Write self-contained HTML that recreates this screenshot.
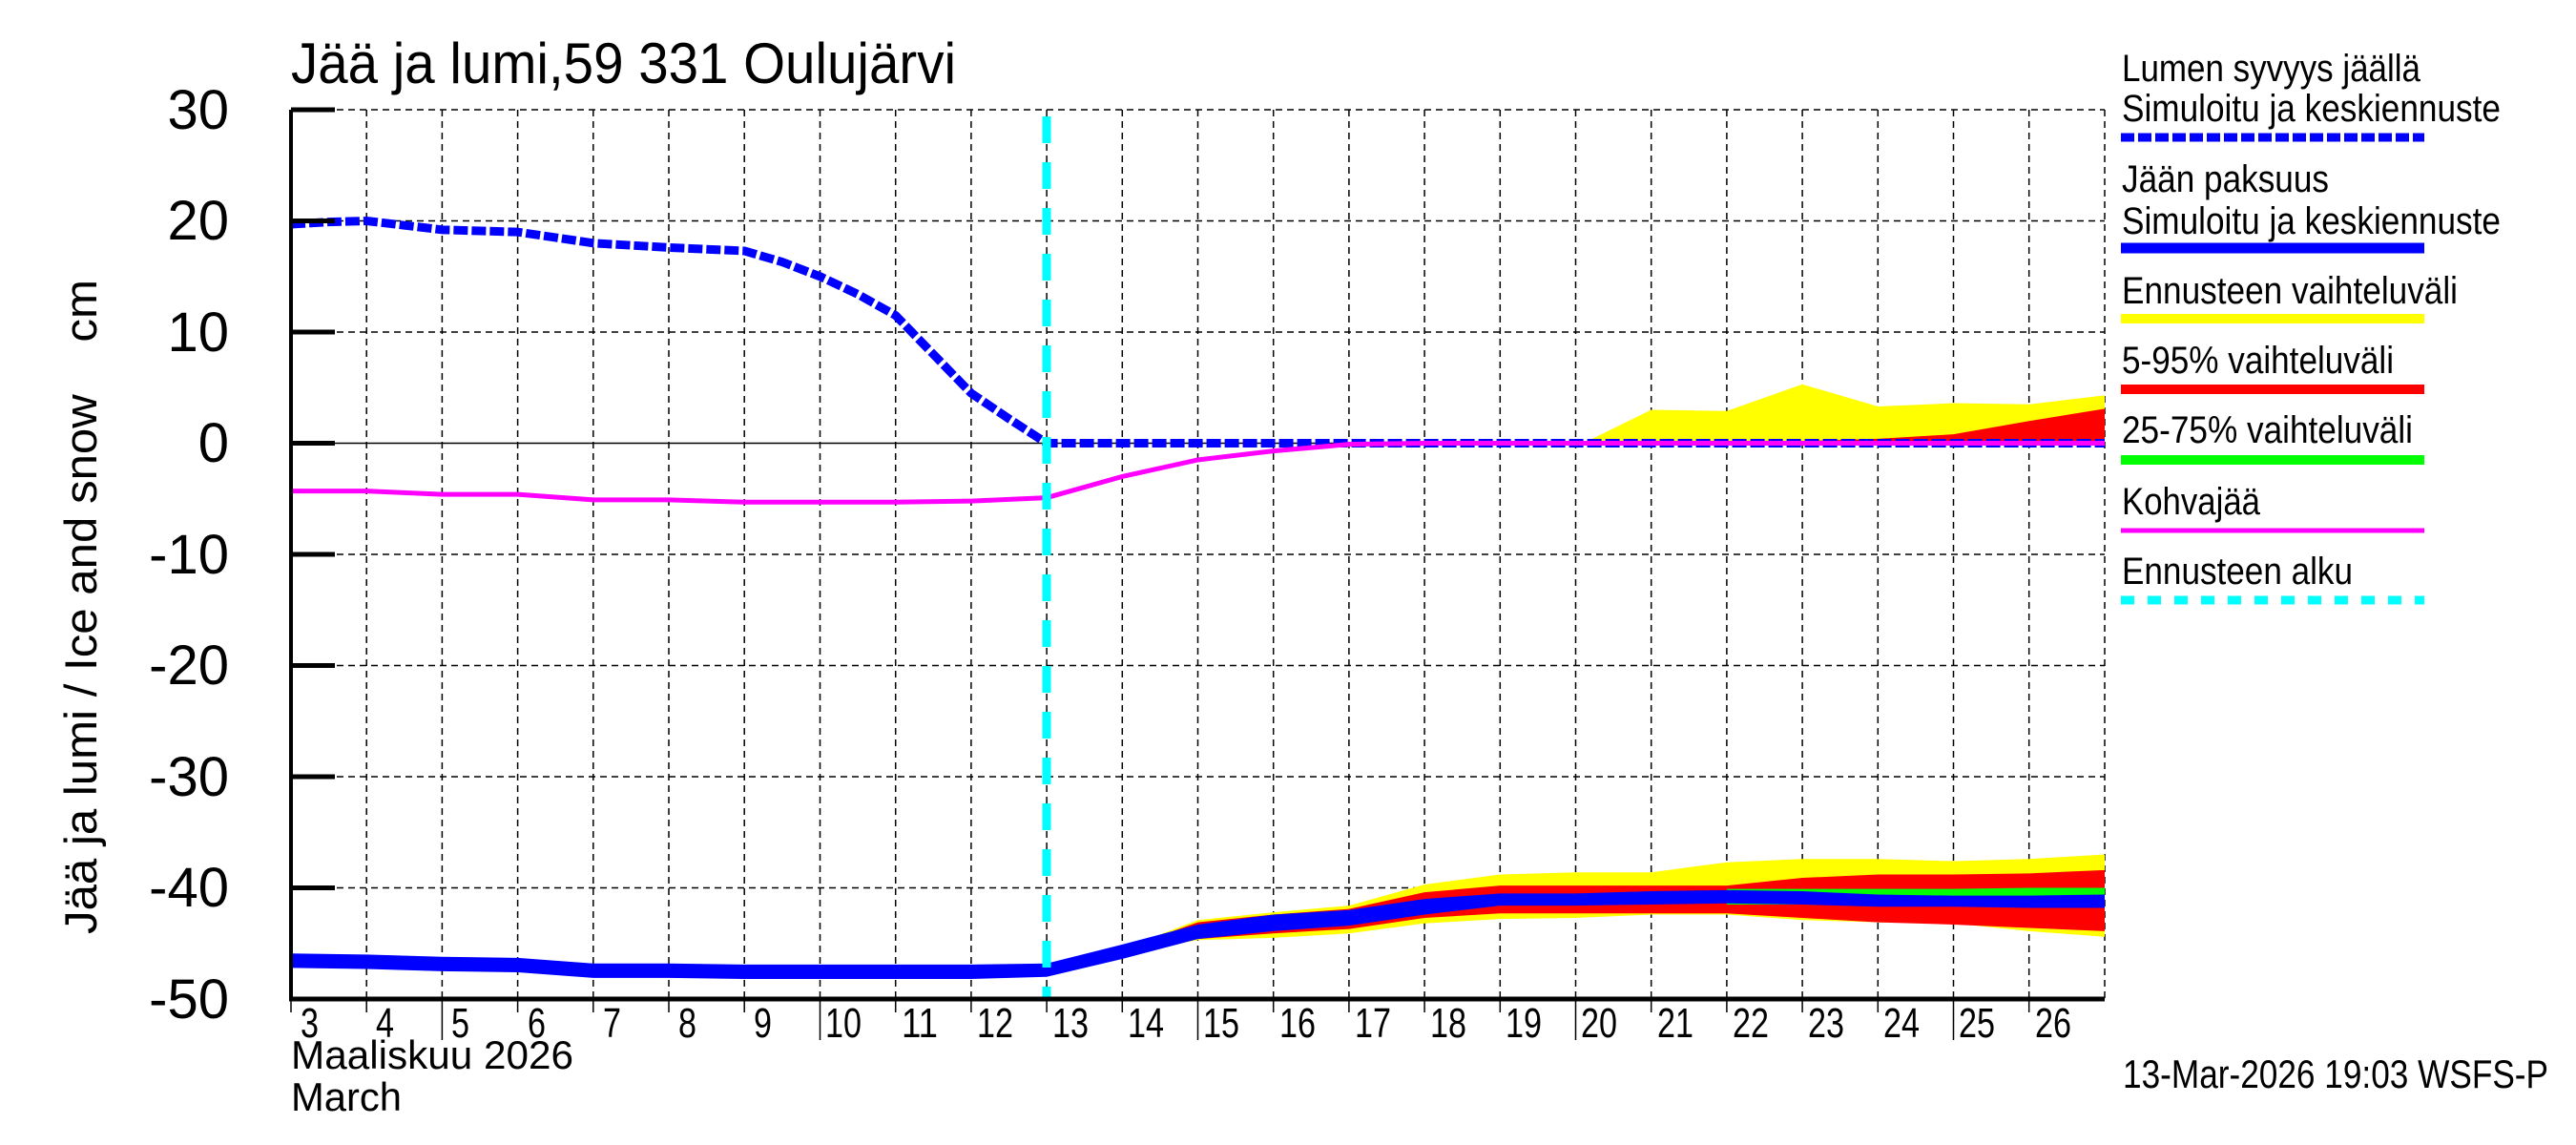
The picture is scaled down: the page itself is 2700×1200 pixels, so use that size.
<!DOCTYPE html>
<html><head><meta charset="utf-8"><style>
html,body{margin:0;padding:0;background:#fff}
svg{display:block}
text{font-family:"Liberation Sans",sans-serif;fill:#000}
</style></head><body>
<svg width="2700" height="1200" viewBox="0 0 2700 1200" xmlns="http://www.w3.org/2000/svg">
<rect width="2700" height="1200" fill="#fff"/>
<g stroke="#000" stroke-width="1.5" stroke-dasharray="7,5" fill="none">
<path d="M384.2 115V1047M463.4 115V1047M542.6 115V1047M621.8 115V1047M701 115V1047M780.2 115V1047M859.5 115V1047M938.7 115V1047M1017.9 115V1047M1097.1 115V1047M1176.3 115V1047M1255.5 115V1047M1334.7 115V1047M1413.9 115V1047M1493.1 115V1047M1572.3 115V1047M1651.5 115V1047M1730.7 115V1047M1809.9 115V1047M1889.1 115V1047M1968.3 115V1047M2047.5 115V1047M2126.7 115V1047M2206 115V1047"/>
<path d="M305 115H2206M305 231.5H2206M305 348H2206M305 581H2206M305 697.5H2206M305 814H2206M305 930.5H2206"/>
</g>
<path d="M305 464.5H2206" stroke="#000" stroke-width="1.5"/>
<g transform="translate(305,464.5) scale(79.208,-11.65)">
<polygon fill="#ffff00" points="10,-47.4 11,-45.5 12,-42.9 13,-42.2 14,-41.6 15,-39.7 16,-38.8 17,-38.6 18,-38.6 19,-37.7 20,-37.4 21,-37.4 22,-37.6 23,-37.4 24,-37 24,-44.4 23,-43.9 22,-43.2 21,-43.1 20,-42.9 19,-42.4 18,-42.4 17,-42.7 16,-42.8 15,-43.2 14,-44.1 13,-44.5 12,-44.7 11,-45.9 10,-47.6"/>
<polygon fill="#ff0000" points="10,-47.4 11,-45.5 12,-43.1 13,-42.4 14,-41.9 15,-40.4 16,-39.8 17,-39.8 18,-39.8 19,-39.8 20,-39.1 21,-38.8 22,-38.8 23,-38.7 24,-38.4 24,-43.9 23,-43.6 22,-43.3 21,-43.1 20,-42.7 19,-42.3 18,-42.3 17,-42.3 16,-42.3 15,-42.7 14,-43.7 13,-44.1 12,-44.6 11,-45.9 10,-47.6"/>
<polygon fill="#00ff00" points="19,-40.1 20,-40.1 21,-40.1 22,-40.1 23,-40.0 24,-40.0 24,-41.8 23,-41.6 22,-41.6 21,-41.6 20,-41.5 19,-41.5"/>
<polygon fill="#0000ff" points="0,-45.9 1,-46 2,-46.2 3,-46.3 4,-46.8 5,-46.8 6,-46.9 7,-46.9 8,-46.9 9,-46.9 10,-46.8 11,-45.1 12,-43.3 13,-42.4 14,-42 15,-41 16,-40.5 17,-40.5 18,-40.3 19,-40.2 20,-40.3 21,-40.6 22,-40.7 23,-40.7 24,-40.6 24,-41.8 23,-41.8 22,-41.7 21,-41.7 20,-41.5 19,-41.4 18,-41.5 17,-41.6 16,-41.6 15,-42.4 14,-43.4 13,-43.9 12,-44.6 11,-46.4 10,-48 9,-48.2 8,-48.2 7,-48.2 6,-48.2 5,-48.1 4,-48.1 3,-47.6 2,-47.5 1,-47.3 0,-47.2"/>
<polygon fill="#ffff00" points="17.1,0 18,3 19,2.9 20,5.3 21,3.3 22,3.6 23,3.5 24,4.3 24,0"/>
<polygon fill="#ff0000" points="19.8,0 20,0.2 21,0.4 22,0.8 23,2 24,3.1 24,0"/>
<polyline fill="none" stroke="#0000ff" stroke-width="9" vector-effect="non-scaling-stroke" stroke-dasharray="15,4" stroke-linejoin="round" points="0,19.7 0.5,19.9 1,20 1.5,19.6 2,19.2 3,19 3.5,18.5 4,18 5,17.6 6,17.3 6.5,16.3 7,15 7.5,13.4 8,11.5 8.5,8 9,4.5 9.5,2.2 10,0 24,0"/>
<polyline fill="none" stroke="#ff00ff" stroke-width="5" vector-effect="non-scaling-stroke" points="0,-4.3 1,-4.3 2,-4.6 3,-4.6 4,-5.1 5,-5.1 6,-5.3 7,-5.3 8,-5.3 9,-5.2 10,-4.9 11,-3 12,-1.5 13,-0.7 14,-0.1 15,0 24,0"/>
</g>
<path d="M1097 122V1047" stroke="#00ffff" stroke-width="9" stroke-dasharray="28,20"/>
<path d="M305 115V1049" stroke="#000" stroke-width="4"/>
<path d="M303 1047H2206" stroke="#000" stroke-width="5"/>
<g stroke="#000" stroke-width="5"><path d="M305 115H351M305 231.5H351M305 348H351M305 464.5H351M305 581H351M305 697.5H351M305 814H351M305 930.5H351"/></g>
<g stroke="#000" stroke-width="1.5"><path d="M305 1047V1061M384.2 1047V1061M463.4 1047V1090M542.6 1047V1061M621.8 1047V1061M701 1047V1061M780.2 1047V1061M859.5 1047V1090M938.7 1047V1061M1017.9 1047V1061M1097.1 1047V1061M1176.3 1047V1061M1255.5 1047V1090M1334.7 1047V1061M1413.9 1047V1061M1493.1 1047V1061M1572.3 1047V1061M1651.5 1047V1090M1730.7 1047V1061M1809.9 1047V1061M1889.1 1047V1061M1968.3 1047V1061M2047.5 1047V1090M2126.7 1047V1061"/></g>
<g font-size="58" text-anchor="end">
<text x="240" y="135">30</text><text x="240" y="251">20</text><text x="240" y="368">10</text><text x="240" y="484">0</text>
<text x="240" y="601">-10</text><text x="240" y="717">-20</text><text x="240" y="834">-30</text><text x="240" y="950">-40</text><text x="240" y="1067">-50</text>
</g>
<g font-size="44">
<text x="315" y="1087" textLength="19" lengthAdjust="spacingAndGlyphs">3</text>
<text x="394" y="1087" textLength="19" lengthAdjust="spacingAndGlyphs">4</text>
<text x="473" y="1087" textLength="19" lengthAdjust="spacingAndGlyphs">5</text>
<text x="553" y="1087" textLength="19" lengthAdjust="spacingAndGlyphs">6</text>
<text x="632" y="1087" textLength="19" lengthAdjust="spacingAndGlyphs">7</text>
<text x="711" y="1087" textLength="19" lengthAdjust="spacingAndGlyphs">8</text>
<text x="790" y="1087" textLength="19" lengthAdjust="spacingAndGlyphs">9</text>
<text x="865" y="1087" textLength="38" lengthAdjust="spacingAndGlyphs">10</text>
<text x="945" y="1087" textLength="38" lengthAdjust="spacingAndGlyphs">11</text>
<text x="1024" y="1087" textLength="38" lengthAdjust="spacingAndGlyphs">12</text>
<text x="1103" y="1087" textLength="38" lengthAdjust="spacingAndGlyphs">13</text>
<text x="1182" y="1087" textLength="38" lengthAdjust="spacingAndGlyphs">14</text>
<text x="1261" y="1087" textLength="38" lengthAdjust="spacingAndGlyphs">15</text>
<text x="1341" y="1087" textLength="38" lengthAdjust="spacingAndGlyphs">16</text>
<text x="1420" y="1087" textLength="38" lengthAdjust="spacingAndGlyphs">17</text>
<text x="1499" y="1087" textLength="38" lengthAdjust="spacingAndGlyphs">18</text>
<text x="1578" y="1087" textLength="38" lengthAdjust="spacingAndGlyphs">19</text>
<text x="1657" y="1087" textLength="38" lengthAdjust="spacingAndGlyphs">20</text>
<text x="1737" y="1087" textLength="38" lengthAdjust="spacingAndGlyphs">21</text>
<text x="1816" y="1087" textLength="38" lengthAdjust="spacingAndGlyphs">22</text>
<text x="1895" y="1087" textLength="38" lengthAdjust="spacingAndGlyphs">23</text>
<text x="1974" y="1087" textLength="38" lengthAdjust="spacingAndGlyphs">24</text>
<text x="2053" y="1087" textLength="38" lengthAdjust="spacingAndGlyphs">25</text>
<text x="2133" y="1087" textLength="38" lengthAdjust="spacingAndGlyphs">26</text>
</g>
<text x="305" y="1120" font-size="42" textLength="296" lengthAdjust="spacingAndGlyphs">Maaliskuu 2026</text>
<text x="305" y="1164" font-size="42" textLength="116" lengthAdjust="spacingAndGlyphs">March</text>
<text x="305" y="87" font-size="60" textLength="697" lengthAdjust="spacingAndGlyphs">Jää ja lumi,59 331 Oulujärvi</text>
<text transform="translate(101,979) rotate(-90)" font-size="47" textLength="686" lengthAdjust="spacingAndGlyphs" xml:space="preserve">Jää ja lumi / Ice and snow    cm</text>
<g font-size="40">
<text x="2224" y="85" textLength="313" lengthAdjust="spacingAndGlyphs">Lumen syvyys jäällä</text>
<text x="2224" y="127" textLength="397" lengthAdjust="spacingAndGlyphs">Simuloitu ja keskiennuste</text>
<text x="2224" y="201" textLength="217" lengthAdjust="spacingAndGlyphs">Jään paksuus</text>
<text x="2224" y="245" textLength="397" lengthAdjust="spacingAndGlyphs">Simuloitu ja keskiennuste</text>
<text x="2224" y="318" textLength="352" lengthAdjust="spacingAndGlyphs">Ennusteen vaihteluväli</text>
<text x="2224" y="391" textLength="285" lengthAdjust="spacingAndGlyphs">5-95% vaihteluväli</text>
<text x="2224" y="464" textLength="305" lengthAdjust="spacingAndGlyphs">25-75% vaihteluväli</text>
<text x="2224" y="539" textLength="145" lengthAdjust="spacingAndGlyphs">Kohvajää</text>
<text x="2224" y="612" textLength="242" lengthAdjust="spacingAndGlyphs">Ennusteen alku</text>
</g>
<path d="M2223 144H2541" stroke="#0000ff" stroke-width="9" stroke-dasharray="14,4"/>
<path d="M2223 260H2541" stroke="#0000ff" stroke-width="11"/>
<path d="M2223 334H2541" stroke="#ffff00" stroke-width="10"/>
<path d="M2223 408H2541" stroke="#ff0000" stroke-width="10"/>
<path d="M2223 482H2541" stroke="#00ff00" stroke-width="10"/>
<path d="M2223 556H2541" stroke="#ff00ff" stroke-width="5"/>
<path d="M2223 629H2541" stroke="#00ffff" stroke-width="9" stroke-dasharray="14,14"/>
<text x="2225" y="1140" font-size="42" textLength="446" lengthAdjust="spacingAndGlyphs">13-Mar-2026 19:03 WSFS-P</text>
</svg>
</body></html>
